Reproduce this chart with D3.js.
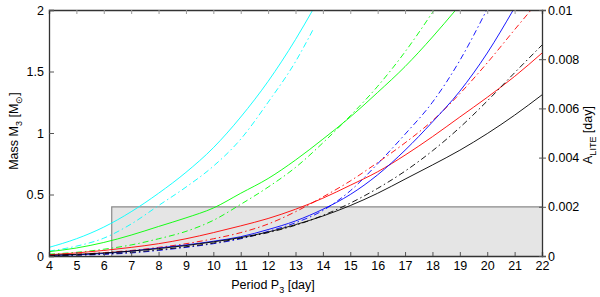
<!DOCTYPE html>
<html>
<head>
<meta charset="utf-8">
<script src="https://cdn.jsdelivr.net/npm/d3@7"></script>
<style>
  body { margin: 0; background: #fff; }
  text { font-family: "Liberation Sans", Arial, sans-serif; }
</style>
</head>
<body>
<script>
// period ticks and value ticks
const periodTicks = d3.range(4, 23);
const massTicks = [0, 0.5, 1, 1.5, 2];
const liteTicks = [0, 0.002, 0.004, 0.006, 0.008, 0.01];

// shaded region: periods above 6.29 d, mass below 0.4
const shadeP = [6.29, 22];
const shadeM = 0.4;

// curves, [period, mass]
const cyanSolid = [[4,0.07],[5,0.14],[6,0.235],[7,0.36],[8,0.51],[9,0.68],[10,0.88],[11,1.13],[12,1.42],[13,1.76],[13.63,2.0]];
const cyanDash  = [[4,0.04],[5,0.08],[6,0.145],[7,0.26],[8,0.41],[9,0.56],[10,0.73],[11,0.95],[12,1.25],[13,1.58],[13.64,1.84]];
const greenSolid = [[4,0.035],[5,0.065],[6,0.11],[7,0.17],[8,0.24],[9,0.31],[10,0.39],[11,0.51],[12,0.63],[13,0.78],[14,0.95],[15,1.13],[16,1.33],[17,1.54],[18,1.78],[18.85,2.0]];
const greenDash  = [[4,0.015],[5,0.03],[6,0.055],[7,0.09],[8,0.14],[9,0.2],[10,0.29],[11,0.42],[12,0.56],[13,0.72],[14,0.92],[15,1.14],[16,1.38],[17,1.66],[18,1.98],[18.06,2.0]];
const redSolid = [[4,0.01],[5,0.025],[6,0.045],[7,0.07],[8,0.1],[9,0.14],[10,0.19],[11,0.245],[12,0.305],[13,0.38],[14,0.47],[15,0.575],[16,0.685],[17,0.82],[18,0.97],[19,1.13],[20,1.29],[21,1.46],[22,1.65]];
const redDash  = [[4,0.006],[5,0.015],[6,0.028],[7,0.045],[8,0.07],[9,0.1],[10,0.14],[11,0.19],[12,0.26],[13,0.36],[14,0.48],[15,0.61],[16,0.76],[17,0.92],[18,1.1],[19,1.32],[20,1.57],[21,1.84],[21.6,2.0]];
const blueSolid = [[4,0.003],[5,0.01],[6,0.02],[7,0.04],[8,0.065],[9,0.09],[10,0.12],[11,0.157],[12,0.215],[13,0.285],[14,0.38],[15,0.5],[16,0.66],[17,0.86],[18,1.09],[19,1.34],[20,1.65],[20.95,2.0]];
const blueDash  = [[4,0.002],[5,0.006],[6,0.013],[7,0.025],[8,0.045],[9,0.07],[10,0.1],[11,0.14],[12,0.2],[13,0.27],[14,0.37],[15,0.53],[16,0.75],[17,0.99],[18,1.25],[19,1.59],[19.98,2.0]];
const blackSolid = [[4,0.006],[5,0.013],[6,0.025],[7,0.04],[8,0.06],[9,0.085],[10,0.115],[11,0.15],[12,0.195],[13,0.255],[14,0.325],[15,0.41],[16,0.51],[17,0.625],[18,0.74],[19,0.86],[20,0.995],[21,1.145],[22,1.31]];
const blackDash  = [[4,0.003],[5,0.008],[6,0.017],[7,0.03],[8,0.05],[9,0.075],[10,0.105],[11,0.145],[12,0.19],[13,0.25],[14,0.33],[15,0.43],[16,0.55],[17,0.69],[18,0.855],[19,1.045],[20,1.26],[21,1.49],[22,1.715]];

const series = [
  {d: cyanSolid,  c: "#00ffff", dash: null},
  {d: cyanDash,   c: "#00ffff", dash: "6,3,1.5,3"},
  {d: greenSolid, c: "#00ff00", dash: null},
  {d: greenDash,  c: "#00ff00", dash: "6,3,1.5,3"},
  {d: redSolid,   c: "#ff0000", dash: null},
  {d: redDash,    c: "#ff0000", dash: "6,3,1.5,3"},
  {d: blueSolid,  c: "#0000ff", dash: null},
  {d: blueDash,   c: "#0000ff", dash: "6,3,1.5,3"},
  {d: blackSolid, c: "#000000", dash: null},
  {d: blackDash,  c: "#000000", dash: "6,3,1.5,3"}
];

const w = 600, h = 297;
const L = 49, R = 542, T = 10, B = 256;

const svg = d3.select("body").append("svg")
  .attr("width", w).attr("height", h);

const x = d3.scaleLinear().domain([4, 22]).range([L, R]);
const y = d3.scaleLinear().domain([0, 2]).range([B, T]);
const y2 = d3.scaleLinear().domain([0, 0.01]).range([B, T]);

svg.append("defs").append("clipPath").attr("id", "plot")
  .append("rect").attr("x", L).attr("y", T).attr("width", R - L).attr("height", B - T);

// shaded box
svg.append("rect")
  .attr("x", x(shadeP[0])).attr("y", y(shadeM))
  .attr("width", x(shadeP[1]) - x(shadeP[0]))
  .attr("height", y(0) - y(shadeM))
  .attr("fill", "#e5e5e5");
svg.append("path")
  .attr("d", `M${x(shadeP[0])},${y(0)}V${y(shadeM)}H${x(shadeP[1])}`)
  .attr("fill", "none").attr("stroke", "#8a8a8a").attr("stroke-width", 1.2);

// curves
const line = d3.line().x(d => x(d[0])).y(d => y(d[1])).curve(d3.curveMonotoneX);
svg.append("g").attr("clip-path", "url(#plot)")
  .selectAll("path").data(series).enter().append("path")
  .attr("d", s => line(s.d))
  .attr("fill", "none")
  .attr("stroke", s => s.c)
  .attr("stroke-width", 0.9)
  .attr("stroke-dasharray", s => s.dash);

// axes
const fmt = d3.format("");
const xAxis = svg.append("g").attr("transform", `translate(0,${B})`)
  .call(d3.axisBottom(x).tickValues(periodTicks).tickFormat(d3.format("d")).tickSize(-4).tickPadding(5));
const xTop = svg.append("g").attr("transform", `translate(0,${T})`)
  .call(d3.axisTop(x).tickValues(periodTicks).tickFormat("").tickSize(-4));
const yAxis = svg.append("g").attr("transform", `translate(${L},0)`)
  .call(d3.axisLeft(y).tickValues(massTicks).tickFormat(fmt).tickSize(-5).tickPadding(5));
const yRight = svg.append("g").attr("transform", `translate(${R},0)`)
  .call(d3.axisRight(y2).tickValues(liteTicks).tickFormat(fmt).tickSize(4).tickPadding(2));

[xAxis, xTop, yAxis, yRight].forEach(g => {
  g.selectAll("text").attr("font-size", 12.5).attr("fill", "#000")
    .style("font-family", "'Liberation Sans', Arial, sans-serif");
  g.select(".domain").attr("stroke", "#333").attr("stroke-width", 1.3);
  g.selectAll(".tick line").attr("stroke", "#555");
});
xTop.selectAll(".tick line").attr("stroke", "#999");
yRight.selectAll(".tick line").attr("x1", -3);
xAxis.selectAll("text").attr("dy", "0.71em");

// labels
const xl = svg.append("text").attr("x", 273).attr("y", 289)
  .attr("text-anchor", "middle").attr("font-size", 12.5);
xl.append("tspan").text("Period P");
xl.append("tspan").attr("font-size", 9).attr("dy", 4).text("3");
xl.append("tspan").attr("dy", -4).text(" [day]");

const yl = svg.append("text").attr("transform", "translate(18,131) rotate(-90)")
  .attr("text-anchor", "middle").attr("font-size", 12.5);
yl.append("tspan").text("Mass M");
yl.append("tspan").attr("font-size", 9).attr("dy", 4).text("3");
yl.append("tspan").attr("dy", -4).text(" [M");
yl.append("tspan").attr("font-size", 9).attr("dy", 4).text("⊙");
yl.append("tspan").attr("dy", -4).text("]");

const yr = svg.append("text").attr("transform", "translate(592,135) rotate(-90)")
  .attr("text-anchor", "middle").attr("font-size", 12.5);
yr.append("tspan").text("A");
yr.append("tspan").attr("font-size", 9).attr("dy", 4).text("LITE");
yr.append("tspan").attr("dy", -4).text(" [day]");
</script>
</body>
</html>
